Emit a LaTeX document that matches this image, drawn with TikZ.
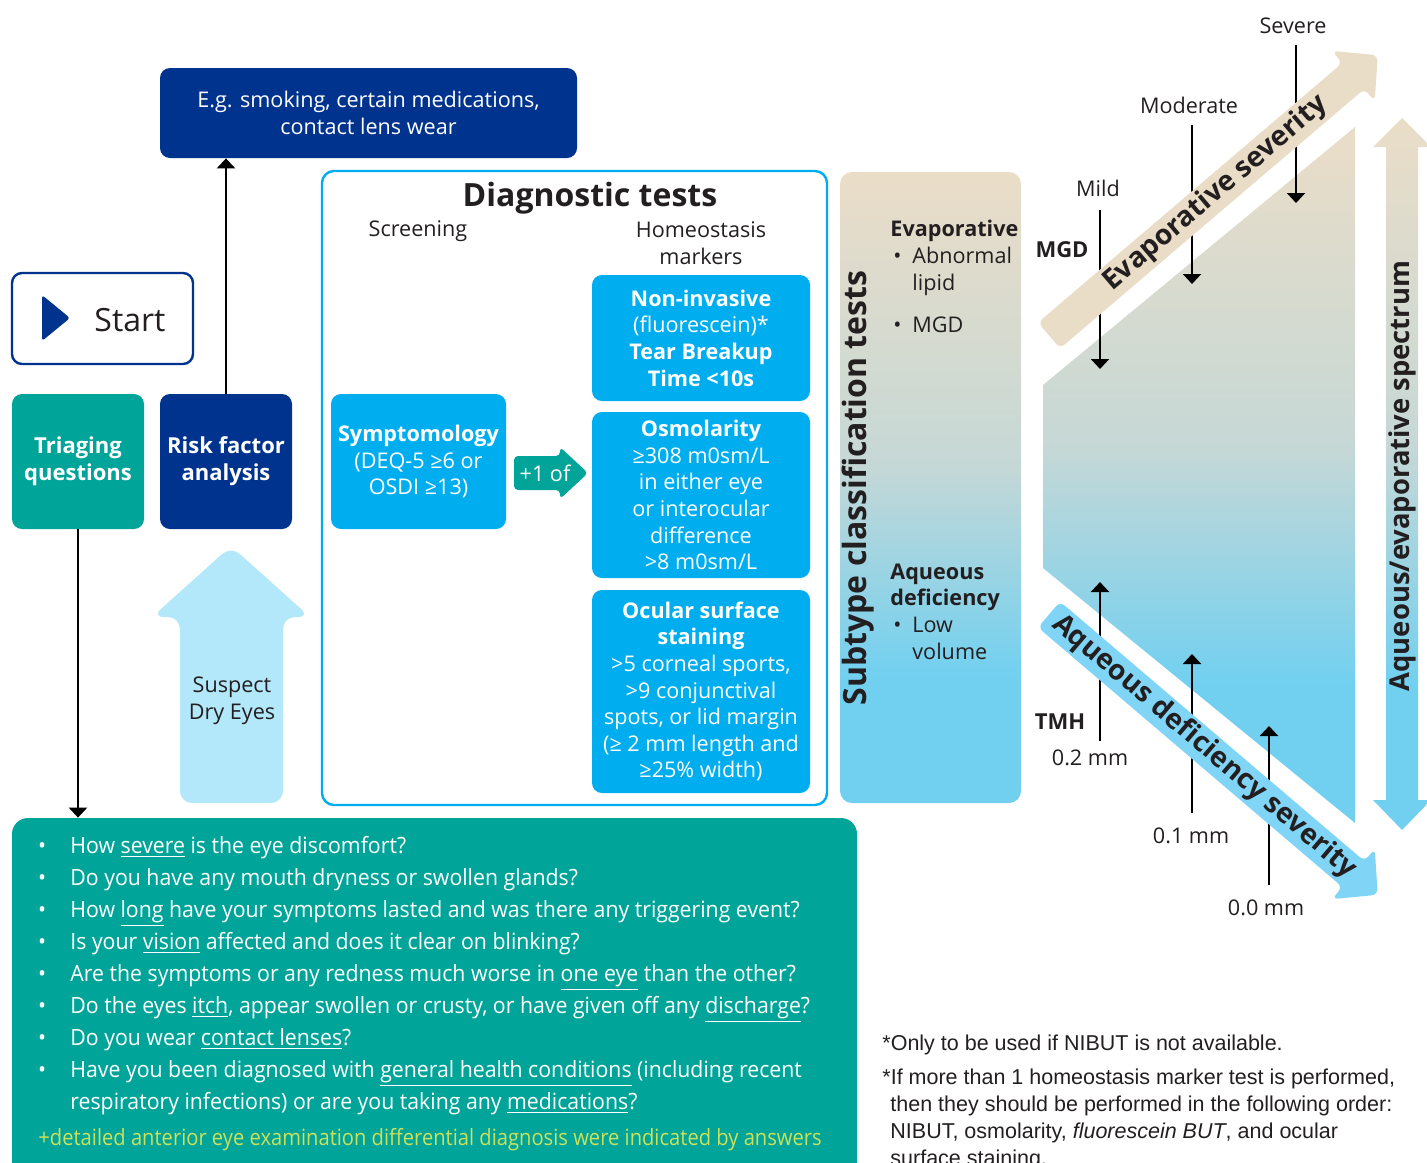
\documentclass[tikz,border=0pt]{standalone}
\usepackage{fontspec}
\setmainfont{Open Sans}
\newfontfamily\condfont[FakeStretch=0.95]{Open Sans}
\newfontfamily\narrowfont[FakeStretch=0.9]{Open Sans}
\newfontfamily\notefont{Liberation Sans}
\usetikzlibrary{arrows.meta,calc,positioning}

\definecolor{navyc}{RGB}{0,51,141}
\definecolor{tealc}{RGB}{0,164,153}
\definecolor{cyanc}{RGB}{0,174,239}
\definecolor{palec}{RGB}{178,232,249}
\definecolor{tanc}{RGB}{234,221,199}
\definecolor{greyc}{RGB}{198,216,214}
\definecolor{skyc}{RGB}{113,208,240}
\definecolor{aqc}{RGB}{128,213,246}
\definecolor{limec}{RGB}{204,224,90}
\definecolor{inkc}{RGB}{35,31,32}

% beige at the top, blue at the bottom
\pgfdeclareverticalshading{tanskyshade}{100bp}{color(0bp)=(skyc); color(25bp)=(skyc); color(35bp)=(skyc); color(52bp)=(greyc); color(75bp)=(tanc); color(100bp)=(tanc)}

\newcommand{\bulitem}[1]{\makebox[11pt][l]{\hspace{1.5pt}\textbullet}#1}

\begin{document}
\begin{tikzpicture}[x=0.5pt, y=-0.5pt, >={Triangle[width=9pt,length=5pt]},
  txt/.style={font=\fontsize{10.8}{13.3}\selectfont, text=inkc, inner sep=0pt},
  boldtxt/.style={font=\fontsize{11}{13.3}\selectfont\bfseries, text=inkc, inner sep=0pt},
  box/.style={rounded corners=5pt, align=center, text=white, inner sep=0pt,
    font=\fontsize{10.8}{13.3}\selectfont},
  navybox/.style={box, fill=navyc},
  tealbox/.style={box, fill=tealc},
  testbox/.style={box, fill=cyanc, minimum width=109pt},
  bandtext/.style={font=\fontsize{14}{16}\selectfont\bfseries, text=inkc, inner sep=0pt},
  tick/.style={line width=1.1pt, ->},
  link/.style={line width=1.2pt, ->},
  qtext/.style={font=\fontsize{11.2}{16}\selectfont\condfont, text=white, inner sep=0pt},
  note/.style={font=\fontsize{10.75}{13.5}\selectfont\notefont, text=inkc, inner sep=0pt, align=left}
]
  \useasboundingbox (0,0) rectangle (1427,1162);

  % Left column
  \node[navybox, minimum width=208.5pt, minimum height=45pt] (eg) at (368.5,113)
    {E.g. smoking, certain medications,\\contact lens wear};
  \node[box, draw=navyc, line width=1.2pt, fill=white, minimum width=90.5pt, minimum height=45.5pt] (start) at (102.5,318.5) {};
  \fill[navyc, rounded corners=1.5pt] (42,295) -- (70,318) -- (42,341) -- cycle;
  \node[txt, font=\fontsize{16}{18}\selectfont] (starttext) at (130,320) {Start};
  \node[tealbox, font=\fontsize{11}{13.3}\selectfont\bfseries, minimum width=66pt, minimum height=67.5pt] (triage) at (78,461.5)
    {Triaging\\questions};
  \node[navybox, font=\fontsize{11}{13.3}\selectfont\bfseries, minimum width=66pt, minimum height=67.5pt] (risk) at (226,461.5)
    {Risk factor\\analysis};

  % Suspect dry eyes
  \fill[palec, rounded corners=6pt] (180,803) -- (180,617) -- (152,617) -- (231,546)
    -- (310,617) -- (283,617) -- (283,803) -- cycle;
  \node[txt, align=center] (suspect) at (232,701) {Suspect\\Dry Eyes};

  % Triaging questions
  \node[fill=tealc, rounded corners=8pt, minimum width=422.5pt, minimum height=186pt, inner sep=0pt] (qbox) at (434.5,1004) {};
  \foreach \mk/\q [count=\i] in {
    1/{How \underline{severe} is the eye discomfort?},
    1/{Do you have any mouth dryness or swollen glands?},
    1/{How \underline{long} have your symptoms lasted and was there any triggering event?},
    1/{Is your \underline{vision} affected and does it clear on blinking?},
    1/{Are the symptoms or any redness much worse in \underline{one eye} than the other?},
    1/{Do the eyes \underline{itch}, appear swollen or crusty, or have given off any \underline{discharge}?},
    1/{Do you wear \underline{contact lenses}?},
    1/{Have you been diagnosed with \underline{general health conditions} (including recent},
    0/{respiratory infections) or are you taking any \underline{medications}?}}
  {
    \node[qtext, anchor=base west] (q\i) at (70,{821+32*\i}) {\q};
    \ifnum\mk=1 \node[qtext, anchor=base] (qb\i) at (42,{821+32*\i}) {\textbullet};\fi
  }
  \node[qtext, font=\fontsize{11.2}{16}\selectfont\narrowfont, text=limec, anchor=base west] (qextra) at (38,1145)
    {+detailed anterior eye examination differential diagnosis were indicated by answers};

  \draw[link] (risk.north) -- (risk.north |- eg.south);
  \draw[link] (triage.south) -- (triage.south |- qbox.north);

  % Diagnostic tests
  \node[draw=cyanc, line width=1.2pt, rounded corners=6pt, minimum width=252.5pt, minimum height=317pt] (diag) at (574.5,488) {};
  \node[boldtxt, font=\fontsize{16}{18}\selectfont\bfseries] (diagtitle) at (590,198) {Diagnostic tests};
  \node[txt] (screen) at (418,231) {Screening};
  \node[txt, align=center] (homeo) at (701,243) {Homeostasis\\markers};
  \node[box, fill=cyanc, minimum width=87.5pt, minimum height=67.5pt] (symp) at (418.5,461.5)
    {\textbf{Symptomology}\\(DEQ-5 ≥6 or\\OSDI ≥13)};
  \fill[tealc, rounded corners=2pt] (514,456) -- (560,456) -- (560,447) -- (588,473)
    -- (560,499) -- (560,490) -- (514,490) -- cycle;
  \node[txt, text=white] (plusone) at (545,473) {+1 of};
  \node[testbox, minimum height=63pt] (nibut) at (701,338)
    {\textbf{Non-invasive}\\(fluorescein)*\\\textbf{Tear Breakup}\\\textbf{Time <10s}};
  \node[testbox, minimum height=83pt] (osmo) at (701,495)
    {\textbf{Osmolarity}\\≥308 m0sm/L\\in either eye\\or interocular\\difference\\>8 m0sm/L};
  \node[testbox, minimum height=101.5pt] (stain) at (701,691.5)
    {\textbf{Ocular surface}\\\textbf{staining}\\>5 corneal sports,\\>9 conjunctival\\spots, or lid margin\\(≥ 2 mm length and\\≥25\% width)};

  % Subtype classification
  \shade[shading=tanskyshade, rounded corners=6pt] (840,172) rectangle (1021,803);
  \node[boldtxt, font=\fontsize{16}{18}\selectfont\bfseries, rotate=90] (subtype) at (858,488) {Subtype classification tests};
  \node[txt, anchor=base west, align=left] (evap) at (890,332)
    {\textbf{Evaporative}\\\bulitem{Abnormal}\\\hspace*{11pt}lipid\\[7.7pt]\bulitem{MGD}};
  \node[txt, anchor=base west, align=left] (aqueous) at (890,659)
    {\textbf{Aqueous}\\\textbf{deficiency}\\\bulitem{Low}\\\hspace*{11pt}volume};

  % Severity spectrum
  \shade[shading=tanskyshade] (1043,385) -- (1355,127) -- (1355,823) -- (1043,568) -- cycle;
  \shade[shading=tanskyshade] (1386,147) -- (1373,147) -- (1402,118) -- (1431,147) -- (1418,147)
    -- (1418,800) -- (1431,800) -- (1402,830) -- (1373,800) -- (1386,800) -- cycle;
  \node[bandtext, font=\fontsize{13.7}{16}\selectfont\bfseries, rotate=90] (spectrum) at (1402,476) {Aqueous/evaporative spectrum};

  \foreach \nm/\lbl/\xx/\ytop/\ytip/\lx/\ly in {mild/Mild/1100/210/369/1098/188,
      moderate/Moderate/1192/125/284/1189/105, severe/Severe/1296/45/203/1293/26}
  {
    \coordinate (top-\nm) at (\xx,\ytop);
    \coordinate (tip-\nm) at (\xx,\ytip);
    \node[txt] (\nm) at (\lx,\ly) {\lbl};
    \draw[tick] (top-\nm) -- (tip-\nm);
  }
  \foreach \nm/\lbl/\xx/\ybot/\ytip/\lx/\ly in {tmhb/0.2 mm/1100/741/582/1090/758,
      tmhc/0.1 mm/1192/813/654/1191/836, tmhd/0.0 mm/1269/885/726/1266/908}
  {
    \coordinate (bot-\nm) at (\xx,\ybot);
    \coordinate (tip-\nm) at (\xx,\ytip);
    \node[txt] (\nm) at (\lx,\ly) {\lbl};
    \draw[tick] (bot-\nm) -- (tip-\nm);
  }
  \node[boldtxt] (mgd) at (1062,250) {MGD};
  \node[boldtxt] (tmh) at (1060,722) {TMH};

  \begin{scope}[shift={(1049,335.5)}, rotate=40.45]
    \fill[tanc, rounded corners=3pt] (0,-17) -- (400,-17) -- (400,-33) -- (432,0)
      -- (400,33) -- (400,17) -- (0,17) -- cycle;
    \node[bandtext, rotate=40.45] (evapsev) at (219,0) {Evaporative severity};
  \end{scope}
  \begin{scope}[shift={(1049,614.5)}, rotate=-40.45]
    \fill[aqc, rounded corners=3pt] (0,-17) -- (400,-17) -- (400,-33) -- (432,0)
      -- (400,33) -- (400,17) -- (0,17) -- cycle;
    \node[bandtext, rotate=-40.45] (aqsev) at (204,0) {Aqueous deficiency severity};
  \end{scope}

  % Notes
  \node[note, anchor=base west] (note1) at (882,1050) {*Only to be used if NIBUT is not available.};
  \node[note, anchor=base west] (note2) at (882,1165)
    {*If more than 1 homeostasis marker test is performed,\\
     \hspace*{4pt}then they should be performed in the following order:\\
     \hspace*{4pt}NIBUT, osmolarity, \textit{fluorescein BUT}, and ocular\\
     \hspace*{4pt}surface staining.};
\end{tikzpicture}
\end{document}
